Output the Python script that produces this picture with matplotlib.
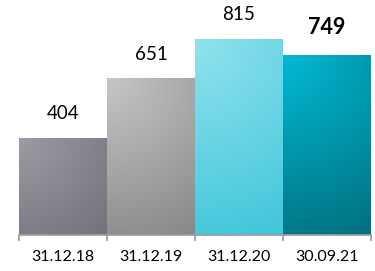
import numpy as np
import matplotlib
matplotlib.use("Agg")
import matplotlib.pyplot as plt
from matplotlib.colors import LinearSegmentedColormap

categories = ["31.12.18", "31.12.19", "31.12.20", "30.09.21"]
values = [404, 651, 815, 749]
bold_flags = [False, False, False, True]
grad_colors = [("#9c9ca4", "#72727c"),
               ("#c6c6c6", "#888888"),
               ("#92e2ee", "#40c6da"),
               ("#00bad4", "#00707f")]

plt.rcParams['font.family'] = ['Lato', 'DejaVu Sans']

fig = plt.figure(figsize=(3.75, 2.71), dpi=100)
ax = fig.add_axes([19/375, 36/271, 352/375, 235/271])
x = np.arange(len(categories))
bars = ax.bar(x, values, width=1.0, color='none', edgecolor='none')
ax.set_xlim(-0.5, len(categories) - 0.5)
ax.set_ylim(0, 977)

# radial gradient from top-left corner
gy, gx = np.mgrid[0:1:100j, 0:1:100j]
for bar, (c0, c1) in zip(bars, grad_colors):
    bx, bw, bh = bar.get_x(), bar.get_width(), bar.get_height()
    # aspect: bar height in px vs width in px
    d = np.sqrt(gx**2 + (gy * (bh * 0.2405) / 88.0)**2)
    d = d / d.max()
    cmap = LinearSegmentedColormap.from_list("g", [c0, c1])
    im = ax.imshow(d, cmap=cmap, extent=[bx, bx + bw, 0, bh], origin='upper',
                   aspect='auto', zorder=2, interpolation='bilinear')
    im.set_clip_path(bar)

for xi, v, b in zip(x, values, bold_flags):
    ax.annotate(f"{v}", (xi, v), xytext=(0, 27 * 0.72 if b else 24 * 0.72),
                textcoords='offset points', ha='center', va='center',
                fontsize=15.5 if b else 13.5, fontweight='bold' if b else 'normal',
                color='black')

for s in ['top', 'right', 'left']:
    ax.spines[s].set_visible(False)
ax.spines['bottom'].set_color('#a0a0a0')
ax.spines['bottom'].set_linewidth(1.3)
ax.spines['bottom'].set_zorder(3)
ax.set_yticks([])
ax.set_xticks(x)
ax.set_xticklabels(categories, fontsize=11.5)
ax.tick_params(axis='x', which='major', length=0, pad=11)
ax.set_xticks(np.arange(len(categories) + 1) - 0.5, minor=True)
ax.tick_params(axis='x', which='minor', length=4, width=1.3, color='#a0a0a0')
ax.set_facecolor('white')

fig.savefig("out.png", dpi=100)
